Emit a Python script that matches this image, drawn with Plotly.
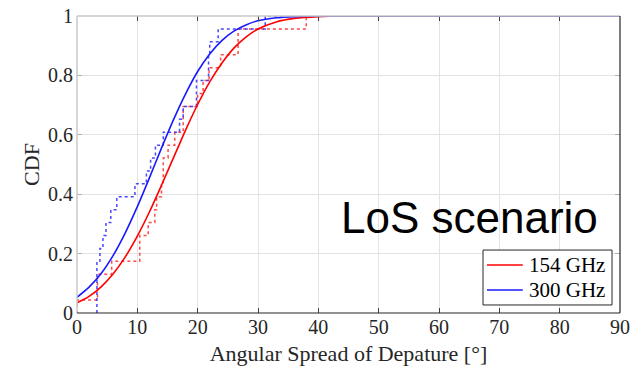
import plotly.graph_objects as go

# ---- data ----
# fitted CDF curves (read at these angles)
fit_x = [0, 2, 4, 6, 8, 10, 12, 14, 16, 18, 20, 22, 24, 26, 28, 30, 33, 36, 40, 45, 50, 60, 70, 80, 90]
cdf_154 = [0.034, 0.056, 0.088, 0.132, 0.189, 0.259, 0.340, 0.430, 0.523, 0.616, 0.702, 0.778,
           0.841, 0.892, 0.929, 0.956, 0.980, 0.992, 0.998, 1.0, 1.0, 1.0, 1.0, 1.0, 1.0]
cdf_300 = [0.053, 0.087, 0.133, 0.194, 0.270, 0.358, 0.455, 0.555, 0.651, 0.738, 0.813, 0.872,
           0.917, 0.949, 0.970, 0.984, 0.994, 0.998, 1.0, 1.0, 1.0, 1.0, 1.0, 1.0, 1.0]

# empirical CDFs (step positions and cumulative sample counts)
n_samples = 23
emp_154_x = [0, 0, 3.4, 5.75, 10.4, 11.8, 12.9, 13.2, 14.0, 14.3, 15.1, 16.2, 17.6, 20.0, 20.9,
             21.9, 23.8, 26.7, 38.0, 90]
emp_154_n = [0, 1, 3, 4, 6, 7, 8, 9, 10, 12, 13, 14, 16, 17, 18, 19, 20, 22, 23, 23]
emp_300_x = [3.3, 3.3, 3.8, 4.3, 4.8, 5.6, 6.6, 9.6, 11.5, 12.2, 13.0, 14.3, 17.0, 17.6, 19.8,
             21.8, 22.0, 23.4, 31.2, 90]
emp_300_n = [0, 4, 5, 6, 7, 8, 9, 10, 11, 12, 13, 14, 15, 16, 18, 20, 21, 22, 23, 23]

series_names = ["154 GHz", "300 GHz"]
x_ticks = [0, 10, 20, 30, 40, 50, 60, 70, 80, 90]
y_ticks = [0, 0.2, 0.4, 0.6, 0.8, 1]
y_tick_labels = ["0", "0.2", "0.4", "0.6", "0.8", "1"]

RED = "#ff0000"
BLUE = "#1a1aff"
SERIF = "Liberation Serif, Times New Roman, serif"

fig = go.Figure()

fig.add_trace(go.Scatter(x=emp_154_x, y=[c / n_samples for c in emp_154_n], mode="lines",
                         line=dict(color="rgba(255,40,40,0.85)", width=1.5, dash="dot", shape="hv"),
                         showlegend=False, hoverinfo="skip"))
fig.add_trace(go.Scatter(x=emp_300_x, y=[c / n_samples for c in emp_300_n], mode="lines",
                         line=dict(color="rgba(40,40,255,0.85)", width=1.5, dash="dot", shape="hv"),
                         showlegend=False, hoverinfo="skip"))
fig.add_trace(go.Scatter(x=fit_x, y=cdf_154, mode="lines", name=series_names[0], showlegend=False,
                         line=dict(color=RED, width=1.6, shape="spline", smoothing=0.8)))
fig.add_trace(go.Scatter(x=fit_x, y=cdf_300, mode="lines", name=series_names[1], showlegend=False,
                         line=dict(color=BLUE, width=1.6, shape="spline", smoothing=0.8)))

fig.add_annotation(x=65, y=0.32, xref="x", yref="y", text="LoS scenario", showarrow=False,
                   font=dict(family="Liberation Sans, Arial, sans-serif", size=44, color="black"))

# axes frame (light left/top, dark bottom/right)
fig.add_shape(type="line", xref="x domain", yref="y domain", x0=0, x1=0, y0=0, y1=1,
              line=dict(color="#c8c8c8", width=1.5))
fig.add_shape(type="line", xref="x domain", yref="y domain", x0=0, x1=1, y0=1, y1=1,
              line=dict(color="#c8c8c8", width=1.5))
fig.add_shape(type="line", xref="x domain", yref="y domain", x0=0, x1=1, y0=0, y1=0,
              line=dict(color="#262626", width=1.2))
fig.add_shape(type="line", xref="x domain", yref="y domain", x0=1, x1=1, y0=0, y1=1,
              line=dict(color="#262626", width=1.2))

# compact legend box (drawn as shapes + text)
fig.add_shape(type="rect", xref="x domain", yref="y domain", x0=0.7477, x1=0.9853,
              y0=0.027, y1=0.212, line=dict(color="#262626", width=1), fillcolor="white")
for name, col, yc in zip(series_names, [RED, BLUE], [0.1616, 0.0774]):
    fig.add_shape(type="line", xref="x domain", yref="y domain", x0=0.755, x1=0.821,
                  y0=yc, y1=yc, line=dict(color=col, width=1.6))
    fig.add_annotation(xref="x domain", yref="y domain", x=0.8287, y=yc, text=name,
                       showarrow=False, xanchor="left", yanchor="middle",
                       font=dict(family=SERIF, size=21, color="black"))

fig.update_layout(
    width=635, height=375,
    margin=dict(l=77, r=15, t=16, b=62),
    plot_bgcolor="white", paper_bgcolor="white",
    font=dict(family=SERIF, size=20, color="#262626"),
    showlegend=False,
    xaxis=dict(range=[0, 90], tickvals=x_ticks, showgrid=True, gridcolor="#e3e3e3", gridwidth=1,
               zeroline=False, showline=False, ticks="inside", ticklen=5, tickcolor="#404040",
               mirror="ticks", automargin=False, tickfont=dict(size=20),
               title=dict(text="Angular Spread of Depature [°]", font=dict(family=SERIF, size=22),
                          standoff=8)),
    yaxis=dict(range=[0, 1], tickvals=y_ticks, ticktext=y_tick_labels, showgrid=True,
               gridcolor="#e3e3e3", gridwidth=1, zeroline=False, showline=False,
               ticks="inside", ticklen=5, tickcolor="#b0b0b0", mirror="ticks",
               automargin=False, tickfont=dict(size=20), ticklabelstandoff=3,
               title=dict(text="CDF", font=dict(family=SERIF, size=22), standoff=2)),
)

fig.write_html("out.html", config={"displayModeBar": False},
               post_script="document.body.style.margin='0';document.body.style.overflow='hidden';")
